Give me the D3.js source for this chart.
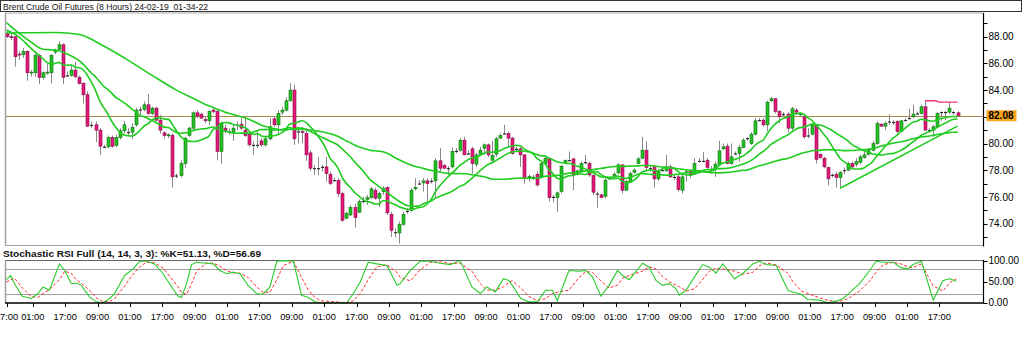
<!DOCTYPE html>
<html lang="en">
<head>
<meta charset="UTF-8" />
<title>Brent Crude Oil Futures (8 Hours)</title>
<script src="https://cdn.jsdelivr.net/npm/d3@7"></script>
<style>
  body { margin: 0; background: #fff; }
  svg { display: block; font-family: "Liberation Sans", Arial, sans-serif; }
</style>
</head>
<body>
<svg width="1024" height="338"></svg>
<script>
// candles, one per bar (oldest first)
var opens = [88.25,88.0,88.0,86.7,86.65,86.9,85.3,85.3,86.6,84.95,85.3,85.3,86.85,87.05,87.4,85.1,85.1,85.5,84.95,84.5,
  83.65,81.4,81.4,81.0,79.75,79.75,80.45,79.85,80.45,80.95,80.85,80.85,81.4,82.55,82.55,82.9,82.25,82.65,81.75,80.8,
  80.6,80.6,77.6,77.6,78.5,80.6,81.15,82.3,82.2,81.8,81.7,82.5,82.4,79.4,81.15,80.9,80.85,81.4,81.45,81.0,
  80.7,79.9,79.9,80.2,79.9,80.35,81.85,81.4,82.35,82.5,83.2,84.0,80.9,80.9,80.75,79.3,78.15,78.15,78.25,78.25,
  77.7,77.25,77.25,76.25,74.4,74.65,75.2,74.85,75.7,75.8,75.95,76.5,75.9,76.4,76.7,74.7,73.35,73.3,73.95,74.95,
  75.0,76.6,77.0,77.05,77.2,77.2,77.2,78.7,78.35,78.15,78.25,79.45,79.5,80.25,79.25,79.6,78.45,79.2,79.65,79.9,
  78.75,79.2,80.4,80.75,80.75,80.4,79.6,79.6,79.15,77.4,77.5,77.7,77.5,78.5,78.9,76.0,75.95,76.4,78.6,78.75,
  78.85,77.7,77.9,78.6,78.5,77.6,76.25,76.15,76.05,77.35,77.55,77.8,78.4,76.5,77.15,77.85,78.5,78.9,79.5,78.15,
  78.3,77.35,78.0,77.95,78.25,77.5,77.5,76.5,77.9,77.9,77.7,78.7,78.7,78.75,78.1,78.1,78.45,79.6,79.8,78.5,
  79.25,79.25,79.7,80.4,80.0,80.7,81.75,81.75,81.4,83.2,83.35,82.4,82.2,82.2,81.15,82.5,82.15,82.0,80.6,80.7,
  81.35,79.2,78.9,78.2,77.65,77.7,77.45,78.0,78.0,78.5,78.45,78.6,78.95,79.2,79.5,80.0,81.45,81.3,81.65,81.6,
  81.65,80.9,81.75,81.9,82.0,82.25,82.25,82.75,81.0,81.0,81.25,82.35,82.35,82.35,82.35,82.3];
var highs = [88.5,88.25,88.05,86.9,87.15,87.0,85.5,86.9,86.7,85.4,86.0,86.7,87.1,87.65,87.5,85.4,85.9,86.1,85.1,84.6,
  83.9,81.65,81.65,81.15,79.9,80.6,80.6,80.65,81.15,81.7,81.15,81.5,82.65,82.75,83.15,83.7,82.75,82.75,82.15,80.9,
  80.75,80.75,77.75,78.75,80.5,81.25,82.4,82.5,82.3,82.0,82.5,82.65,82.5,81.65,81.4,81.15,81.45,81.65,81.9,81.9,
  80.9,80.15,81.0,80.4,80.5,81.9,82.0,82.5,82.75,83.45,84.5,84.4,81.15,81.25,81.15,79.5,78.4,79.0,78.4,79.0,
  77.9,77.45,77.4,76.4,74.9,75.4,75.5,75.8,76.0,76.15,76.75,76.7,76.4,76.8,76.8,74.9,73.65,74.15,74.9,75.15,
  76.65,77.4,77.25,77.4,77.4,77.4,78.9,79.65,78.45,78.3,79.7,79.65,80.4,80.5,79.5,79.75,79.3,79.75,80.0,80.0,
  80.2,80.5,80.75,81.4,80.9,80.5,79.75,79.75,79.2,77.65,77.65,77.9,78.65,79.0,78.95,76.15,76.4,78.4,78.75,79.4,
  78.9,78.05,78.65,79.15,78.65,77.7,76.4,76.25,77.4,77.5,77.85,78.5,78.4,77.25,77.9,78.15,79.0,80.5,80.15,78.3,
  78.4,78.1,78.25,79.15,78.4,77.65,77.7,77.65,78.0,78.0,78.9,78.9,79.35,78.9,78.3,78.65,80.2,80.0,80.0,80.0,
  79.4,79.9,80.4,80.5,80.85,81.9,81.9,81.9,83.2,83.5,83.4,82.5,82.35,82.35,82.75,82.65,82.3,82.1,81.15,81.4,
  81.45,79.25,79.0,78.25,77.75,77.9,77.95,78.2,78.65,78.65,78.9,79.15,79.4,79.65,80.2,81.65,81.5,81.65,82.2,81.75,
  81.75,81.75,81.9,82.6,82.9,82.4,82.9,83.2,81.15,81.4,82.35,82.4,82.45,83.1,82.45,82.4];
var lows = [87.9,87.75,85.75,86.25,86.4,84.7,85.0,85.0,84.45,84.8,85.15,84.5,86.7,87.0,84.45,85.0,85.0,84.9,84.4,83.0,
  81.25,81.15,80.1,79.15,79.65,79.65,79.7,79.75,80.3,80.75,80.65,80.35,81.25,82.15,82.4,82.15,82.15,81.65,80.75,80.35,
  80.4,76.7,77.4,77.45,78.2,80.5,81.0,81.9,81.85,81.5,81.4,82.25,78.75,78.5,80.75,80.65,80.2,81.0,81.0,80.5,
  79.75,79.15,79.65,79.75,79.75,80.25,81.25,80.65,82.15,82.4,83.15,79.9,80.0,80.0,78.7,77.95,77.65,77.6,77.9,77.15,
  76.9,77.15,76.0,74.15,74.35,74.55,73.7,74.8,75.5,75.4,75.85,75.8,75.25,76.15,74.65,73.0,72.95,72.5,73.85,74.75,
  74.9,76.5,76.9,76.4,75.65,77.0,75.9,77.9,78.1,77.65,78.15,79.25,79.4,79.15,79.15,77.75,78.25,79.15,79.15,79.0,
  78.65,79.0,80.35,80.65,79.75,79.15,79.4,78.25,77.0,77.15,77.25,76.75,77.4,78.4,75.65,75.6,74.85,76.25,78.5,78.65,
  76.5,77.6,77.8,78.45,77.5,76.15,75.2,75.9,75.9,77.25,77.45,77.7,76.25,76.45,77.05,77.75,78.45,78.85,78.0,77.9,
  76.7,77.2,77.9,77.9,77.4,77.25,76.4,76.25,77.15,77.4,77.65,78.6,78.6,78.1,77.85,77.5,78.4,79.5,78.45,78.4,
  79.15,78.65,79.65,80.2,79.9,80.6,81.65,81.25,80.9,83.1,82.25,81.5,82.0,80.85,81.0,82.15,82.0,80.35,80.4,80.6,
  78.5,78.85,78.15,76.85,77.45,76.7,76.65,77.7,77.95,78.15,78.25,78.45,78.85,79.1,79.4,79.9,81.25,81.0,81.4,81.4,
  80.75,80.85,81.7,81.8,81.9,82.15,82.15,81.0,80.9,80.5,81.2,81.7,81.75,82.2,82.15,82.15];
var closes = [88.0,87.95,86.5,86.65,86.9,85.3,85.35,86.6,84.95,85.3,85.35,86.6,87.0,87.4,84.95,85.1,85.5,85.0,84.5,83.65,
  81.3,81.4,81.0,79.8,79.75,80.45,79.8,80.45,80.95,81.4,80.85,81.2,82.5,82.55,82.9,82.25,82.65,81.75,81.0,80.6,
  80.65,77.5,77.6,78.5,80.4,81.15,82.3,82.05,81.9,81.7,82.4,82.4,79.4,81.5,80.9,80.9,81.15,81.4,81.15,80.6,
  79.9,79.9,79.9,79.9,80.35,81.25,81.4,82.25,82.5,83.2,84.0,80.35,80.9,80.85,79.15,78.15,78.15,78.15,78.25,77.75,
  77.0,77.25,76.25,74.25,74.75,75.2,74.45,75.65,75.7,75.95,76.6,75.9,76.25,76.65,74.8,73.5,73.35,73.95,74.7,74.95,
  76.5,76.7,77.0,77.2,77.0,77.2,78.7,78.15,78.15,78.15,79.4,79.45,80.25,79.15,79.25,78.5,79.15,79.5,79.9,79.15,
  79.1,80.35,80.6,80.75,80.4,79.25,79.6,79.15,77.4,77.55,77.5,76.9,78.5,78.9,75.95,76.0,76.3,78.3,78.75,78.75,
  77.7,77.95,78.5,78.6,77.65,76.35,76.25,75.95,77.25,77.45,77.7,78.4,76.5,77.15,77.75,78.0,78.85,79.5,78.2,78.15,
  77.35,77.95,78.0,78.25,77.5,77.5,76.55,77.5,77.9,77.7,78.5,78.7,78.7,78.2,78.1,78.45,79.45,79.75,78.5,79.0,
  79.25,79.7,80.25,80.4,80.7,81.7,81.75,81.4,83.1,83.35,82.4,82.0,82.2,81.15,82.6,82.35,82.25,80.5,80.6,81.35,
  78.8,78.95,78.25,77.35,77.65,77.45,77.85,78.0,78.5,78.25,78.65,79.0,79.15,79.5,80.0,81.5,81.3,81.5,81.65,81.6,
  80.9,81.7,81.75,81.9,82.2,82.25,82.75,81.0,81.0,81.25,82.25,82.35,82.35,82.65,82.35,82.08];

// moving averages before a full window is on the chart
var fastLeadBars = [0, 3, 6];
var fastLead = [88.5, 88.0, 87.15];
var midLeadBars = [0, 3, 6, 9, 12, 15];
var midLead = [89.06, 88.28, 87.61, 87.06, 87.0, 86.7];
var slowLeadBars = [0, 6, 12, 18, 24, 30, 36, 42, 48];
var slowLead = [88.28, 88.3, 88.31, 88.16, 87.3, 86.25, 85.1, 84.0, 83.1];

// trend line and recent-high line
var trendBars = [206, 235];
var trendVals = [76.65, 81.3];
var resBars = [227, 229.5, 230.5, 235];
var resVals = [83.2, 83.2, 83.1, 83.1];

var lastPrice = 82.08;

// stochastic RSI, sampled along the bars
var stochBars = [0,1,2,3.9,6.1,7.8,9,10.6,13.1,14.4,16,17.2,18.5,20.5,22.2,23.8,25.5,26.7,29.2,31.3,
  32.9,34.6,36.6,38.7,40.3,42.4,43.2,44.5,45.7,47,49.4,51.1,52.7,54.4,56,57.7,59.7,61.8,63.4,65.1,
  66.8,68.4,70.9,72.9,74.6,76.2,77.5,84.1,85.7,87.4,89.4,91.5,94,96.5,97.3,99.8,102.2,104.7,107.2,109.7,
  112.1,115,117.1,118.7,120.8,122.8,124.1,125,127.1,129.1,131.2,133.2,134.9,136.1,139,141.5,143.2,144.8,146.9,148.9,
  151,152.2,153.9,157.2,158.8,160.5,162.1,163.8,165.4,166.3,167.9,170,172,173.7,175.3,177,179.9,181.9,184.4,186.1,
  187.7,190.2,193.1,194.3,196.4,198,200.9,202.9,205,206.7,208.3,210.8,213.3,214.9,216.6,219.1,221.1,222.8,224,226.1,
  229,231.4,233.1,234.7];
var stochK = [54.7,64.8,45.3,15.6,10.2,21.9,37.5,29.7,92.2,76.6,45.3,46.9,41.4,14.1,2.3,0,10.2,21.9,64.8,80.5,
  98.4,98.4,92.2,68.8,45.3,15.6,12.5,45.3,90.6,96.1,93.8,92.2,76.6,68.8,72.7,68.8,41.4,21.9,20.3,37.5,
  98.4,100,98.4,18.0,12.5,2.3,0,0,21.9,49.2,96.1,92.2,88.3,41.4,45.3,76.6,98.4,98.4,93.8,90.6,
  100,37.5,21.9,37.5,25.8,57.0,53.1,41.4,10.2,2.3,2.3,29.7,29.7,4.7,76.6,75.0,76.6,60.9,15.6,41.4,
  76.6,64.8,54.7,93.8,84.4,53.1,41.4,45.3,33.6,18.0,29.7,60.9,90.6,84.4,70.3,92.2,57.0,68.8,92.2,98.4,
  90.6,88.3,29.7,25.8,20.3,7.8,6.3,0,3.9,10.2,23.4,45.3,76.6,98.4,96.1,96.1,82.8,80.5,90.6,98.4,
  6.3,53.1,57.0,51.13];
var stochD = [49,55,58,35,15,13,22,31,55,75,70,55,46,30,12,3,3,10,40,68,
  85,96,95,82,63,38,25,20,45,75,94,94,87,76,71,70,60,38,25,25,
  55,88,99,60,30,13,5,0,5,22,55,85,90,72,60,52,78,96,97,93,
  94,75,45,30,30,38,48,52,35,15,5,10,22,25,30,60,74,72,52,35,
  42,58,65,75,85,80,62,50,42,38,28,33,55,75,82,80,75,68,72,88,
  94,90,70,50,28,22,12,6,3,5,12,28,52,72,90,96,92,85,84,92,
  40,28,48,56.69];

// axis labels
var priceTicks = [74, 76, 78, 80, 84, 86, 88];
var stochTicks = [0, 50, 100];
var timeLabels = ['17:00','01:00','17:00','09:00','01:00','17:00','09:00','01:00','17:00','09:00',
  '01:00','17:00','09:00','01:00','17:00','09:00','01:00','17:00','09:00','01:00',
  '17:00','09:00','01:00','17:00','09:00','01:00','17:00','09:00','01:00','17:00'];
var timeBars = timeLabels.map(function (d, k) { return k === 0 ? 0 : 6.5 + 8 * (k - 1); });

var svg = d3.select('svg');
var plotL = 5, plotR = 983.5, plotT = 13, plotB = 245.5;
var stT = 260.5, stB = 303;

var x = d3.scaleLinear().domain([0, 235]).range([6.5, 957.5]);
var y = d3.scaleLinear().domain([74, 88]).range([223.6, 36.7]);
var ys = d3.scaleLinear().domain([0, 100]).range([302.8, 260.6]);

var defs = svg.append('defs');
defs.append('clipPath').attr('id', 'clipMain').append('rect')
  .attr('x', plotL + 1).attr('y', plotT).attr('width', plotR - plotL - 1).attr('height', plotB - plotT);
defs.append('clipPath').attr('id', 'clipStoch').append('rect')
  .attr('x', plotL + 1).attr('y', stT - 1).attr('width', plotR - plotL - 1).attr('height', stB - stT + 2);

// title bar
svg.append('rect').attr('x', 0.5).attr('y', 0.5).attr('width', 1021).attr('height', 11)
  .attr('fill', '#fff').attr('stroke', '#333');
svg.append('text').attr('x', 3).attr('y', 9.5).attr('font-size', '9.5px').attr('fill', '#111')
  .attr('textLength', 205).attr('lengthAdjust', 'spacingAndGlyphs')
  .text('Brent Crude Oil Futures (8 Hours) 24-02-19_01-34-22');

// main frame
svg.append('line').attr('x1', plotL).attr('x2', plotR).attr('y1', 13).attr('y2', 13)
  .attr('stroke', '#aaa').attr('stroke-width', 1.2);
svg.append('line').attr('x1', plotL + 0.5).attr('x2', plotL + 0.5).attr('y1', plotT).attr('y2', plotB)
  .attr('stroke', '#a0a0a0').attr('stroke-width', 1.5);
svg.append('line').attr('x1', plotL).attr('x2', plotR).attr('y1', plotB).attr('y2', plotB)
  .attr('stroke', '#a0a0a0').attr('stroke-width', 1.2);

var main = svg.append('g').attr('clip-path', 'url(#clipMain)');

// current price line
main.append('line').attr('x1', plotL).attr('x2', plotR)
  .attr('y1', Math.round(y(lastPrice)) + 0.5).attr('y2', Math.round(y(lastPrice)) + 0.5)
  .attr('stroke', '#a88a4c').attr('stroke-width', 1);

// candles
var gs = main.selectAll('g.c').data(closes).enter().append('g').attr('class', 'c');
gs.append('line')
  .attr('x1', function (d, i) { return Math.round(x(i)) + 0.5; })
  .attr('x2', function (d, i) { return Math.round(x(i)) + 0.5; })
  .attr('y1', function (d, i) { return y(highs[i]); })
  .attr('y2', function (d, i) { return y(lows[i]); })
  .attr('stroke', '#8a8a8a').attr('stroke-width', 1);
gs.append('rect')
  .attr('x', function (d, i) { return Math.round(x(i)) - 1; })
  .attr('width', 3)
  .attr('y', function (d, i) { return Math.min(y(opens[i]), y(d)); })
  .attr('height', function (d, i) { return Math.max(1, Math.abs(y(opens[i]) - y(d))); })
  .attr('fill', function (d, i) {
    if (d === opens[i]) return '#111';
    return d > opens[i] ? '#22c322' : '#e2187a';
  })
  .attr('stroke', function (d, i) {
    if (d === opens[i]) return 'none';
    return d > opens[i] ? '#137013' : '#8c0c4a';
  })
  .attr('stroke-width', 0.6);

// simple moving averages of the closes
function sma(n) {
  var out = [];
  for (var i = n - 1; i < closes.length; i++) {
    out.push([i, d3.mean(closes.slice(i - n + 1, i + 1))]);
  }
  return out;
}
function pairs(bars, vals) {
  return bars.map(function (b, k) { return [b, vals[k]]; });
}
var maLine = d3.line()
  .x(function (d) { return x(d[0]); })
  .y(function (d) { return y(d[1]); })
  .curve(d3.curveMonotoneX);

var maSets = [
  pairs(slowLeadBars, slowLead).concat(sma(50)),
  pairs(midLeadBars, midLead).concat(sma(20)),
  pairs(fastLeadBars, fastLead).concat(sma(10))
];
maSets.forEach(function (s) {
  main.append('path').attr('d', maLine(s)).attr('fill', 'none')
    .attr('stroke', '#1fcc1f').attr('stroke-width', 1.6);
});

var straight = d3.line()
  .x(function (d) { return x(d[0]); })
  .y(function (d) { return y(d[1]); });
main.append('path').attr('d', straight(pairs(trendBars, trendVals))).attr('fill', 'none')
  .attr('stroke', '#1fcc1f').attr('stroke-width', 1.6);
main.append('path').attr('d', straight(pairs(resBars, resVals))).attr('fill', 'none')
  .attr('stroke', '#f0337a').attr('stroke-width', 1.4);

// price axis
svg.append('line').attr('x1', plotR).attr('x2', plotR).attr('y1', plotT).attr('y2', plotB + 1)
  .attr('stroke', '#000').attr('stroke-width', 1.2);
svg.selectAll('line.pt').data(d3.range(73, 90)).enter().append('line')
  .attr('x1', plotR).attr('x2', plotR + 4)
  .attr('y1', function (d) { return Math.round(y(d)) + 0.5; })
  .attr('y2', function (d) { return Math.round(y(d)) + 0.5; })
  .attr('stroke', '#000')
  .style('display', function (d) { return y(d) < plotT || y(d) > plotB ? 'none' : null; });
svg.selectAll('text.pl').data(priceTicks).enter().append('text')
  .attr('x', 988.5).attr('y', function (d) { return y(d) + 3.6; })
  .attr('font-size', '10px').attr('fill', '#000')
  .text(function (d) { return d.toFixed(2); });
svg.append('rect').attr('x', 986.5).attr('y', y(lastPrice) - 5.5).attr('width', 30).attr('height', 11)
  .attr('fill', '#f7a51d');
svg.append('text').attr('x', 988.5).attr('y', y(lastPrice) + 3.6)
  .attr('font-size', '10px').attr('font-weight', 'bold').attr('fill', '#000')
  .text(lastPrice.toFixed(2));

// stochastic panel
svg.append('text').attr('x', 3).attr('y', 256.5).attr('font-size', '9.5px').attr('font-weight', 'bold')
  .attr('fill', '#111').attr('textLength', 258).attr('lengthAdjust', 'spacingAndGlyphs')
  .text('Stochastic RSI Full (14, 14, 3, 3): %K=' + stochK[stochK.length - 1].toFixed(2) +
        ', %D=' + stochD[stochD.length - 1].toFixed(2));
svg.append('line').attr('x1', plotL).attr('x2', plotR).attr('y1', stT).attr('y2', stT)
  .attr('stroke', '#666').attr('stroke-width', 1.2);
[80, 20].forEach(function (v) {
  svg.append('line').attr('x1', plotL).attr('x2', plotR)
    .attr('y1', Math.round(ys(v)) + 0.5).attr('y2', Math.round(ys(v)) + 0.5)
    .attr('stroke', '#a0a0a0');
});
svg.append('line').attr('x1', plotL + 0.5).attr('x2', plotL + 0.5).attr('y1', stT).attr('y2', stB)
  .attr('stroke', '#a0a0a0').attr('stroke-width', 1.5);

var st = svg.append('g').attr('clip-path', 'url(#clipStoch)');
var stLine = d3.line()
  .x(function (d) { return x(d[0]); })
  .y(function (d) { return ys(d[1]); });
st.append('path').attr('d', stLine(pairs(stochBars, stochD))).attr('fill', 'none')
  .attr('stroke', '#ff2a2a').attr('stroke-width', 1).attr('stroke-dasharray', '3,2');
st.append('path').attr('d', stLine(pairs(stochBars, stochK))).attr('fill', 'none')
  .attr('stroke', '#2ccc2c').attr('stroke-width', 1.1);

svg.append('line').attr('x1', plotL).attr('x2', plotR + 0.6).attr('y1', stB).attr('y2', stB)
  .attr('stroke', '#000').attr('stroke-width', 1.5);
svg.append('line').attr('x1', plotR).attr('x2', plotR).attr('y1', stT - 0.6).attr('y2', stB)
  .attr('stroke', '#000').attr('stroke-width', 1.2);
svg.selectAll('line.st').data(stochTicks).enter().append('line')
  .attr('x1', plotR).attr('x2', plotR + 4)
  .attr('y1', function (d) { return Math.round(ys(d)) + 0.5; })
  .attr('y2', function (d) { return Math.round(ys(d)) + 0.5; })
  .attr('stroke', '#000');
svg.selectAll('text.sl').data(stochTicks).enter().append('text')
  .attr('x', 988.5).attr('y', function (d) { return ys(d) + 3.6; })
  .attr('font-size', '10px').attr('fill', '#000')
  .text(function (d) { return d.toFixed(2); });

// time axis
svg.selectAll('line.tt').data(timeBars).enter().append('line')
  .attr('x1', function (d) { return Math.round(x(d)) + 0.5; })
  .attr('x2', function (d) { return Math.round(x(d)) + 0.5; })
  .attr('y1', stB).attr('y2', stB + 4).attr('stroke', '#000');
svg.selectAll('text.tl').data(timeLabels).enter().append('text')
  .attr('x', function (d, k) { return x(timeBars[k]); })
  .attr('y', 320)
  .attr('text-anchor', 'middle').attr('font-size', '9.3px').attr('fill', '#000')
  .text(function (d) { return d; });
</script>
</body>
</html>
